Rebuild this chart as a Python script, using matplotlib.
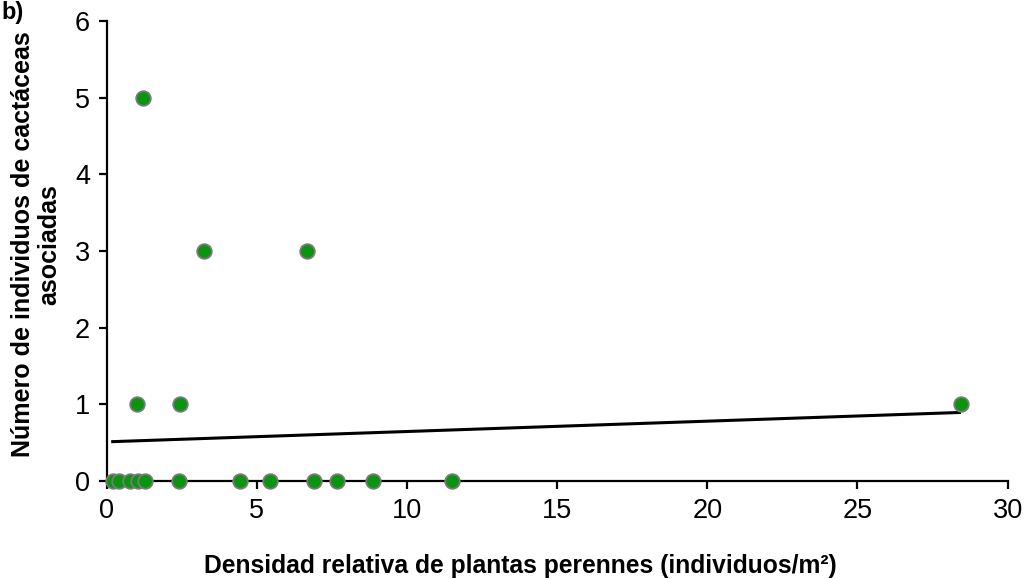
import numpy as np
import matplotlib.pyplot as plt

plt.rcParams['font.family'] = ['Liberation Sans', 'DejaVu Sans']

# densidad relativa (x) y numero de cactaceas (y)
dens = [0.21, 0.41, 0.77, 1.04, 1.26, 2.41, 4.45, 5.43, 6.89, 7.67, 8.87, 11.5,
        1.0, 2.43, 28.45, 3.23, 6.66, 1.2]
cact = [0, 0, 0, 0, 0, 0, 0, 0, 0, 0, 0, 0,
        1, 1, 1, 3, 3, 5]

# linea de tendencia
trend_x = [0.2, 28.4]
trend_y = [0.515, 0.895]

fig = plt.figure(figsize=(10.26, 5.79), dpi=100)
ax = fig.add_axes([0.104, 0.169, 0.878, 0.795])

ax.plot(trend_x, trend_y, color='black', lw=2.2, zorder=2)
ax.scatter(dens, cact, s=110, c='#0a9410', edgecolors='#7a7a7a', linewidths=1.3,
           zorder=3, clip_on=False)

ax.set_xlim(0, 30)
ax.set_ylim(0, 6)
ax.set_xticks(range(0, 31, 5))
ax.set_yticks(range(0, 7))
for s in ['top', 'right']:
    ax.spines[s].set_visible(False)
for s in ['left', 'bottom']:
    ax.spines[s].set_linewidth(1.6)
ax.tick_params(direction='out', length=6, width=1.6, labelsize=19.5, pad=6)

ax.set_xlabel('Densidad relativa de plantas perennes (individuos/m²)',
              fontsize=17.7, fontweight='bold')
ax.xaxis.set_label_coords(0.4595, -0.158)
ax.set_ylabel('Número de individuos de cactáceas\nasociadas',
              fontsize=18, fontweight='bold', linespacing=1.15)
ax.yaxis.set_label_coords(-0.05, 0.515)
fig.text(0.001, 0.998, 'b)', fontsize=17, fontweight='bold', va='top')

plt.savefig('out.png', dpi=100)
